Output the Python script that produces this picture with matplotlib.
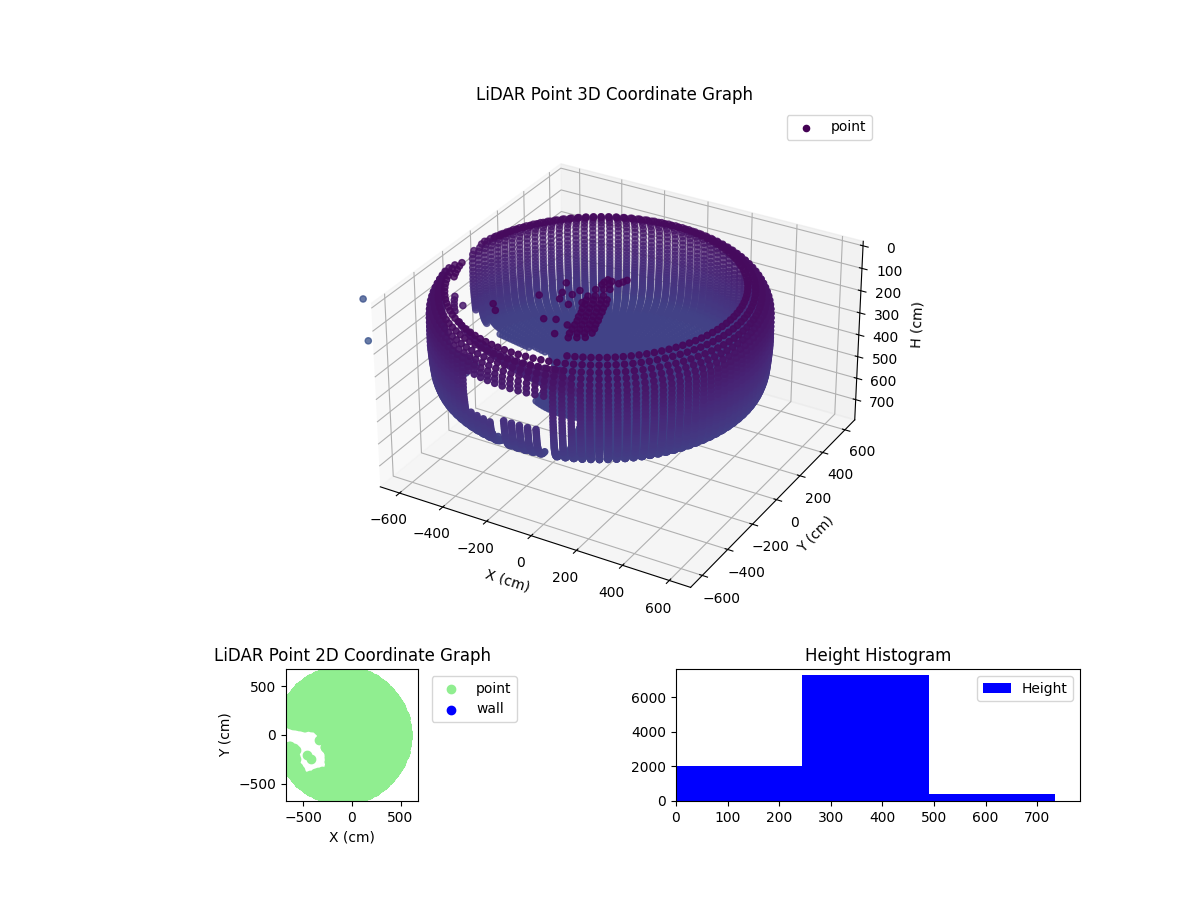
import numpy as np
import matplotlib
matplotlib.use("Agg")
import matplotlib.pyplot as plt
from matplotlib.path import Path

# ---- data ----
azimuths = [0,3,6,9,12,15,18,21,24,27,30,33,36,39,42,45,48,51,54,57,60,63,66,69,72,75,78,81,84,87,
            90,93,96,99,102,105,108,111,114,117,120,123,126,129,132,135,138,141,144,147,150,153,156,159,162,165,168,171,174,177,
            180,183,186,189,192,195,198,201,204,207,210,213,216,219,222,225,228,231,234,237,240,243,246,249,252,255,258,261,264,267,
            270,273,276,279,282,285,288,291,294,297,300,303,306,309,312,315,318,321,324,327,330,333,336,339,342,345,348,351,354,357]
profile_radius = [570,600,625,642,653,660,
                  662,662,662,662,662,662,662,662,
                  661,660,659,658,657,656,655,654,653,652,651,650,
                  648,646,644,642,640,637,634,630,625,620,614,607,600,590,578,565,
                  550,535,520,505,490,474,458,442,425,408,390,372,354,335,316,297,278,258,238,218,198,178,158,138,118,98,78,58,38,18]
profile_height = [60,75,92,110,130,150,
                  170,190,210,228,245,262,278,293,
                  307,320,332,343,354,364,374,383,392,400,408,415,
                  422,428,434,440,446,452,457,462,467,471,475,479,482,485,487,488,
                  489,489,489,489,489,489,489,489,489,489,489,489,489,489,489,489,489,489,489,489,489,489,489,489,489,489,489,489,489,489]
center_x = -98
center_y = 0
notch_x = [-790,-700,-530,-380,-295,-205,-300,-245,-245,-510,-565,-600,-555,-650,-790]
notch_y = [62,136,78,78,-15,-70,-125,-180,-340,-425,-260,-190,-170,-90,-110]
# front-left sector where the lower wall is missing, with the patches that remain
wall_hole_az = [252,284]
wall_hole_h = [210,500]
hole_keep_az = [[252,261],[267,279]]
hole_keep_h = [370,340]
# floor rows behind that sector sit higher up; the other rows there are absent
raised_az = [205,285]
raised_rows = [565,535,490,458,425,390,354,316]
raised_heights = [130,170,215,250,280,310,340,370]
raised_span = [300,575]

obstacle_x = [-174,-154,-176,-113,-106,-121,-303,-276,-233,-224,-258,-205,-167,-343,-461,-229,-185,-425,-125,-132,
              -174,-150,-123,-150,-126,-102,-81,-129,-105,-81,-61,-109,-85,-61,-40,-92,-67,-43,-19,-71,-43,-16,
              -163,-139,-114,-94,-142,-118,-94,-73,-121,-97,-73,-52,-101,-77,-52,-32,-84,-59,-35,-11,-175,-148,-127,-173,-149]
obstacle_y = [189,186,165,203,223,183,86,11,15,58,-39,-61,-22,-53,-202,-206,-187,-243,-203,-285,
              35,50,67,-27,-13,2,15,-92,-77,-62,-49,-156,-141,-126,-114,-222,-207,-192,-177,-286,-269,-252,
              4,19,33,46,-61,-46,-31,-18,-125,-110,-95,-83,-188,-174,-159,-146,-255,-240,-225,-210,96,113,125,143,158]
obstacle_h = [150,150,150,150,150,150,150,150,150,150,150,150,150,150,150,150,150,150,150,150,
              150,150,150,150,150,150,150,150,150,150,150,150,150,150,150,150,150,150,150,150,150,150,
              150,150,150,150,150,150,150,150,150,150,150,150,150,150,150,150,150,150,150,150,150,150,150,150,150]
obstacle_shade = 30

outlier_x = [-1135,-1120]
outlier_y = [-125,-125]
outlier_h = [350,540]
outlier_shade = [620,650]

wall_x = []
wall_y = []

hist_edges = [0,245,490,735]
hist_counts = [2020,7270,410]
hist_mids = [122,367,612]

# ---- assemble the cloud ----
xs, ys, hs = [], [], []
for a in azimuths:
    for r, h in zip(profile_radius, profile_height):
        if wall_hole_az[0] <= a <= wall_hole_az[1] and r > 575 and wall_hole_h[0] <= h <= wall_hole_h[1]:
            kept = any(span[0] <= a <= span[1] and h >= low for span, low in zip(hole_keep_az, hole_keep_h))
            if not kept:
                continue
        if raised_az[0] <= a <= raised_az[1] and raised_span[0] <= r <= raised_span[1]:
            if r not in raised_rows:
                continue
            h = raised_heights[raised_rows.index(r)]
        xs.append(center_x + r*np.cos(np.radians(a)))
        ys.append(center_y + r*np.sin(np.radians(a)))
        hs.append(h)
xs, ys, hs = np.array(xs), np.array(ys), np.array(hs)
keep = ~Path(np.column_stack([notch_x, notch_y])).contains_points(np.column_stack([xs, ys]))
xs, ys, hs = xs[keep], ys[keep], hs[keep]
shade = np.concatenate([hs, [obstacle_shade]*len(obstacle_h), outlier_shade])
xs = np.concatenate([xs, obstacle_x, outlier_x])
ys = np.concatenate([ys, obstacle_y, outlier_y])
hs = np.concatenate([hs, obstacle_h, outlier_h])

fig = plt.figure(figsize=(12, 9), dpi=100)

ax3 = fig.add_axes([352/1200, (900-634)/900, 526/1200, 526/900], projection='3d')
rgba = plt.get_cmap('viridis')(shade/2500.0)
view_depth = (xs*0.5 - ys*0.866 + 700)/1400
rgba[:, 3] = np.clip(0.72 + 0.28*view_depth, 0.72, 1.0)
sc = ax3.scatter(xs, ys, hs, c=rgba, depthshade=False, label='point')
ax3.set_xlim(-690, 690)
ax3.set_ylim(-690, 690)
ax3.set_zlim(795, -20)
ax3.set_aspect('equal')
ax3.set_xticks([-600,-400,-200,0,200,400,600])
ax3.set_yticks([-600,-400,-200,0,200,400,600])
ax3.set_zticks([0,100,200,300,400,500,600,700])
ax3.set_xlabel('X (cm)')
ax3.set_ylabel('Y (cm)')
ax3.set_zlabel('H (cm)')
ax3.set_title('LiDAR Point 3D Coordinate Graph')
leg = ax3.legend(loc='upper right', bbox_to_anchor=(1.002, 1))
leg.legend_handles[0].set_facecolor(plt.get_cmap('viridis')(0.0))
leg.legend_handles[0].set_edgecolor(plt.get_cmap('viridis')(0.0))

ax2 = fig.add_axes([150/1200, 99/900, 404/1200, 132/900])
ax2.scatter(xs, ys, color='lightgreen', label='point')
ax2.scatter(wall_x, wall_y, color='blue', label='wall')
ax2.set_xlim(-680, 680)
ax2.set_ylim(-680, 680)
ax2.set_aspect('equal')
ax2.set_xlabel('X (cm)')
ax2.set_ylabel('Y (cm)')
ax2.set_title('LiDAR Point 2D Coordinate Graph')
ax2.legend(loc='upper left', bbox_to_anchor=(1.05, 1))

ax4 = fig.add_axes([676/1200, 99/900, 404/1200, 132/900])
ax4.hist(hist_mids, bins=hist_edges, weights=hist_counts, color='blue', label='Height')
ax4.set_xlim(0, 783)
ax4.set_xticks([0,100,200,300,400,500,600,700])
ax4.set_title('Height Histogram')
ax4.legend(loc='upper right')

fig.savefig('out.png', dpi=100)
